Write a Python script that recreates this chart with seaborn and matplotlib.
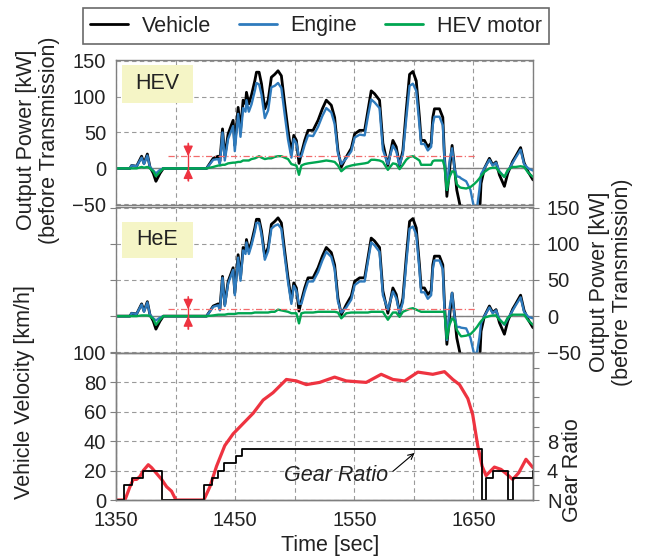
import matplotlib
matplotlib.use("Agg")
import matplotlib.pyplot as plt
import pandas as pd
import seaborn as sns
from matplotlib.lines import Line2D
from matplotlib.patches import Rectangle

# ---------------- data ----------------
time_s = [1350.0, 1361.7, 1363.1, 1367.3, 1371.5, 1373.5, 1376.3, 1378.5, 1381.3, 1383.5,
          1386.9, 1389.7, 1426.0, 1431.6, 1435.8, 1437.2, 1439.4, 1441.3, 1444.1, 1448.3,
          1449.7, 1452.5, 1454.5, 1456.7, 1458.7, 1459.5, 1461.5, 1463.7, 1466.5, 1467.9,
          1470.1, 1472.1, 1474.9, 1477.7, 1480.4, 1483.2, 1486.0, 1488.8, 1491.6, 1494.4,
          1497.2, 1499.2, 1501.4, 1503.6, 1505.6, 1508.4, 1511.2, 1515.4, 1519.6, 1523.2,
          1526.5, 1530.7, 1533.5, 1536.3, 1539.1, 1543.3, 1547.5, 1550.3, 1554.5, 1558.7,
          1561.5, 1564.2, 1567.0, 1571.2, 1574.0, 1578.2, 1582.4, 1585.2, 1588.0, 1590.8,
          1593.6, 1596.4, 1599.2, 1602.0, 1604.7, 1606.1, 1608.9, 1611.7, 1614.5, 1615.9,
          1617.3, 1621.5, 1624.3, 1625.7, 1627.7, 1629.9, 1632.1, 1634.1, 1636.0, 1638.3,
          1639.7, 1643.9, 1647.5, 1650.5, 1653.0, 1655.0, 1656.4, 1659.2, 1663.4, 1666.2,
          1669.0, 1671.8, 1676.0, 1678.8, 1683.0, 1685.5, 1689.6, 1692.5, 1696.0, 1700.0]

vehicle_kw = [0, 0, 4, 3, 17, 7, 20, 2, -7, -18,
              -7, 0, 0, 14, 17, 10, 55, 16, 48, 67,
              32, 85, 53, 95, 90, 106, 90, 102, 122, 134,
              134, 118, 83, 95, 127, 131, 136, 129, 90, 53,
              21, 46, 39, 7, 21, 39, 53, 53, 67, 83,
              95, 88, 71, 25, 2, 16, 28, 48, 53, 53,
              81, 108, 104, 95, 35, 4, 39, 30, 4, 25,
              81, 131, 135, 122, 71, 39, 39, 30, 35, 71,
              83, 83, 71, 16, -39, -2, 32, 2, -30, -48,
              -60, -75, -75, -75, -75, -70, -21, 0, 14, 5,
              9, -9, -25, -7, 10, 17, 29, 8, -5, -16]

engine_hev_kw = [0, 0, 4, 3, 15, 6, 18, 2, -3, -7,
                 -2, 0, 0, 12, 13, 6, 50, 11, 41, 59,
                 24, 76, 44, 84, 79, 95, 79, 89, 108, 119,
                 117, 103, 70, 81, 113, 115, 119, 112, 75, 40,
                 15, 41, 35, 16, 17, 33, 46, 45, 58, 73,
                 84, 78, 62, 21, 6, 14, 24, 43, 47, 46,
                 73, 96, 92, 84, 26, 6, 32, 24, 5, 20,
                 69, 115, 118, 108, 60, 34, 34, 25, 30, 61,
                 72, 72, 60, 13, -30, 10, 28, 0, -11, -12,
                 -14, -18, -30, -55, -55, -30, -8, 0, 12, 4,
                 8, -4, -12, -4, 8, 15, 26, 6, 0, -3]

motor_hev_kw = [0, 0, 0, 0, 2, 1, 2, 0, -4, -11,
                -5, 0, 0, 2, 4, 4, 5, 5, 7, 8,
                8, 9, 9, 11, 11, 11, 11, 13, 14, 15,
                17, 15, 13, 14, 14, 16, 17, 17, 15, 13,
                6, 5, 4, -9, 4, 6, 7, 8, 9, 10,
                11, 10, 9, 4, -4, 2, 4, 5, 6, 7,
                8, 12, 12, 11, 9, -2, 7, 6, -1, 5,
                12, 16, 17, 14, 11, 5, 5, 5, 5, 10,
                11, 11, 11, 3, -30, -12, -4, -5, -22, -26,
                -27, -28, -26, -22, -18, -14, -11, -5, 0, 1,
                1, -5, -12, -2, 2, 2, 3, 2, -6, -12]

engine_hee_kw = [0, 0, 4, 3, 16, 6, 19, 2, -3, -6,
                 -2, 0, 0, 13, 15, 8, 53, 14, 45, 64,
                 29, 81, 49, 91, 86, 102, 86, 98, 117, 129,
                 129, 113, 78, 90, 121, 125, 127, 121, 83, 47,
                 17, 42, 35, 17, 17, 34, 48, 48, 61, 77,
                 89, 82, 65, 20, 5, 12, 23, 43, 48, 48,
                 76, 102, 98, 89, 29, 9, 34, 25, 5, 19,
                 73, 121, 124, 113, 64, 33, 33, 24, 29, 65,
                 77, 77, 65, 10, -33, 10, 32, 0, -15, -15,
                 -16, -17, -30, -52, -50, -30, -10, 0, 12, 4,
                 8, -4, -12, -4, 8, 15, 26, 6, -1, -3]

motor_hee_kw = [0, 0, 0, 0, 1, 1, 1, 0, -4, -12,
                -5, 0, 0, 1, 2, 2, 2, 2, 3, 3,
                3, 4, 4, 4, 4, 4, 4, 4, 5, 5,
                5, 5, 5, 5, 6, 6, 9, 8, 7, 6,
                4, 4, 4, -10, 4, 5, 5, 5, 6, 6,
                6, 6, 6, 5, -3, 4, 5, 5, 5, 5,
                5, 6, 6, 6, 6, -5, 5, 5, -1, 6,
                8, 10, 11, 9, 7, 6, 6, 6, 6, 6,
                6, 6, 6, 6, -31, -12, -3, -6, -19, -25,
                -28, -27, -25, -20, -15, -10, -7, -2, 0, 1,
                1, -5, -11, -2, 2, 2, 2, 2, -6, -12]

velocity_time_s = [1350, 1357.5, 1361.7, 1364.5, 1367.3, 1370.1, 1372.9, 1377.1, 1379.9, 1384.1,
                   1388.3, 1392.5, 1396.6, 1400.3, 1423.7, 1428.8, 1434.4, 1441.3, 1448.3, 1456.7,
                   1465.1, 1473.5, 1481.8, 1493.0, 1501.4, 1509.8, 1520.9, 1533.5, 1543.3, 1560.0,
                   1572.6, 1582.4, 1592.2, 1603.4, 1615.9, 1625.7, 1632.7, 1638.3, 1645.3, 1649.4,
                   1653.6, 1657.3, 1660.6, 1667.6, 1673.2, 1678.8, 1683.0, 1688.0, 1694.1, 1700.0]
velocity_kmh = [0, 0, 9, 14, 14, 16, 20, 24, 22, 18,
                14, 9, 6, 0, 0, 9, 23, 37, 45, 52,
                59, 68, 73, 82, 81, 78.5, 80, 83.6, 81, 80,
                85.5, 82, 81, 87, 85.5, 87.3, 82, 78.5, 69, 58,
                37, 23, 16.6, 22.4, 20.8, 17, 14, 18.5, 27.7, 22]

gear_time_s = [1350, 1356.7, 1363.1, 1372.9, 1388.3, 1423.7, 1430.2, 1435.8, 1440.5, 1451.1,
               1456.1, 1657.3, 1660.6, 1666.2, 1678.8, 1683.0, 1700]
gear_number = [0, 2, 3, 4, 0, 2, 3, 4, 5, 6,
               7, 0, 3, 4, 0, 3, 4]

panel_names = ["HEV", "HeE"]
motor_limit_kw = [17, 9.3]
motor_limit_span_s = [1394, 1652]
series_labels = ["Vehicle", "Engine", "HEV motor"]
x_ticks = [1350, 1400, 1450, 1500, 1550, 1600, 1650, 1700]
x_tick_labels = ["1350", "", "1450", "", "1550", "", "1650", ""]
power_ticks = [-50, 0, 50, 100, 150]
velocity_ticks = [0, 20, 40, 60, 80, 100]
gear_ticks = [0, 4, 8]
gear_tick_labels = ["N", "4", "8"]
gear_minor_ticks = [2, 6, 10, 12, 14, 16, 18]

# ---------------- style ----------------
sns.set_style("white")
plt.rcParams["font.family"] = ["Liberation Sans", "DejaVu Sans"]
TXT = "#222222"
SPINE = "#7f7f7f"
C_VEH, C_ENG, C_MOT, C_RED = "black", "#2f7bbd", "#00a651", "#ee3340"
FS_T = 14.5
FS_L = 15.5

W, H = 646, 557
fig = plt.figure(figsize=(W / 100, H / 100), dpi=100)


def fx(px):
    return px / W


def fy(py):
    return 1 - py / H


left, right = 116, 533
ax1 = fig.add_axes([fx(left), fy(205), fx(right - left), (205 - 60) / H])
ax2 = fig.add_axes([fx(left), fy(353), fx(right - left), (353 - 207) / H])
ax3 = fig.add_axes([fx(left), fy(500), fx(right - left), (500 - 353) / H])


def style_axes(ax):
    for s in ax.spines.values():
        s.set_color(SPINE)
        s.set_linewidth(1.0)
    ax.grid(True, which="major", ls=(0, (4, 3)), color="#9a9a9a", lw=0.8)
    ax.set_axisbelow(True)
    ax.tick_params(axis="both", direction="out", length=4, width=0.8, color=SPINE,
                   labelsize=FS_T, labelcolor=TXT, pad=3)
    ax.set_xlim(1350, 1700)
    ax.set_xticks(x_ticks)
    ax.set_xlabel("")
    ax.set_ylabel("")


arrow_pairs = [((35, 17), (-17, 0)), ((27, 9.3), (-18, 0))]
box_specs = [(65, 102.7, 60, 145), (221.7, 258.3, 207, 146)]

for i, (ax, eng, mot) in enumerate([(ax1, engine_hev_kw, motor_hev_kw),
                                     (ax2, engine_hee_kw, motor_hee_kw)]):
    df = pd.DataFrame({"t": time_s, "veh": vehicle_kw, "eng": eng, "mot": mot})
    ax.axhline(0, color="#808080", lw=1.0, zorder=1)
    sns.lineplot(data=df, x="t", y="veh", ax=ax, color=C_VEH, lw=2.0, estimator=None, sort=False)
    sns.lineplot(data=df, x="t", y="eng", ax=ax, color=C_ENG, lw=1.7, estimator=None, sort=False)
    sns.lineplot(data=df, x="t", y="mot", ax=ax, color=C_MOT, lw=1.7, estimator=None, sort=False)
    style_axes(ax)
    ax.set_ylim(-51, 151)
    ax.set_yticks(power_ticks)
    ax.tick_params(axis="x", bottom=False, labelbottom=False)
    # motor limit reference
    ax.hlines(motor_limit_kw[i], motor_limit_span_s[0], motor_limit_span_s[1],
              colors="#f26b6b", lw=0.9, linestyles=(0, (5, 2, 1, 2)), zorder=2)
    (a0, a1), (b0, b1) = arrow_pairs[i]
    ax.vlines(1410.6, b0, a0, colors=C_RED, lw=1.0, zorder=5)
    for y0, y1 in [(a0, a1), (b0, b1)]:
        ax.annotate("", xy=(1410.6, y1), xytext=(1410.6, y0),
                    arrowprops=dict(arrowstyle="-|>,head_length=0.6,head_width=0.28",
                                    color=C_RED, lw=1.0, shrinkA=0, shrinkB=0),
                    zorder=5)
    # label box
    top, bot, ptop, ph = box_specs[i]
    y_hi = 1 - (top - ptop) / ph
    y_lo = 1 - (bot - ptop) / ph
    x_lo = (121.7 - left) / (right - left)
    x_w = 71 / (right - left)
    ax.add_patch(Rectangle((x_lo, y_lo), x_w, y_hi - y_lo, transform=ax.transAxes,
                           facecolor="#f5f5c6", edgecolor="none", zorder=3))
    ax.text(x_lo + x_w / 2, (y_lo + y_hi) / 2, panel_names[i], transform=ax.transAxes,
            ha="center", va="center", fontsize=15.5, color=TXT, zorder=4)

ax2.tick_params(axis="y", left=True, right=True, labelleft=False, labelright=True, pad=6)

# ---------------- velocity / gear panel ----------------
vdf = pd.DataFrame({"t": velocity_time_s, "v": velocity_kmh})
sns.lineplot(data=vdf, x="t", y="v", ax=ax3, color=C_RED, lw=2.3, estimator=None, sort=False)
style_axes(ax3)
ax3.set_ylim(0, 100)
ax3.set_yticks(velocity_ticks)
ax3.set_xticklabels(x_tick_labels)
ax3.tick_params(axis="x", pad=4)

ax3g = ax3.twinx()
gdf = pd.DataFrame({"t": gear_time_s, "g": gear_number})
sns.lineplot(data=gdf, x="t", y="g", ax=ax3g, color="black", lw=1.3, estimator=None,
             sort=False, drawstyle="steps-post")
ax3g.set_ylim(0, 20)
ax3g.set_xlim(1350, 1700)
ax3g.set_ylabel("")
ax3g.set_yticks(gear_ticks)
ax3g.set_yticklabels(gear_tick_labels)
ax3g.set_yticks(gear_minor_ticks, minor=True)
ax3g.tick_params(axis="y", which="both", direction="out", length=4, width=0.8, color=SPINE,
                 labelsize=FS_T, labelcolor=TXT, pad=6)
ax3g.grid(False)
for s in ax3g.spines.values():
    s.set_color(SPINE)
    s.set_linewidth(1.0)

ax3g.text(1534.9, 3.3, "Gear Ratio", ha="center", va="center", fontsize=15.5,
          style="italic", color=TXT)
ax3g.annotate("", xy=(1600.6, 6.4), xytext=(1582.4, 3.9),
              arrowprops=dict(arrowstyle="->", color="black", lw=0.8,
                              shrinkA=0, shrinkB=0))

# ---------------- labels ----------------
fig.text(fx(38), fy(140), "Output Power [kW]\n(before Transmission)", rotation=90,
         ha="center", va="center", fontsize=FS_L, color=TXT, linespacing=1.15)
fig.text(fx(611), fy(282), "Output Power [kW]\n(before Transmission)", rotation=90,
         ha="center", va="center", fontsize=FS_L, color=TXT, linespacing=1.15)
fig.text(fx(25), fy(392), "Vehicle Velocity [km/h]", rotation=90,
         ha="center", va="center", fontsize=FS_L, color=TXT)
fig.text(fx(573), fy(470), "Gear Ratio", rotation=90,
         ha="center", va="center", fontsize=FS_L, color=TXT)
fig.text(fx(330), fy(546), "Time [sec]", ha="center", va="center",
         fontsize=FS_L, color=TXT)

# ---------------- legend ----------------
handles = [Line2D([], [], color=C_VEH, lw=2.0),
           Line2D([], [], color=C_ENG, lw=2.0),
           Line2D([], [], color=C_MOT, lw=2.0)]
leg = fig.legend(handles, series_labels, loc="center", ncol=3,
                 bbox_to_anchor=(fx(316), fy(26)), frameon=True, fancybox=False,
                 fontsize=FS_L, handlelength=1.75, handletextpad=0.65,
                 columnspacing=1.3, borderpad=0.35, borderaxespad=0)
leg.get_frame().set_edgecolor("#444444")
leg.get_frame().set_linewidth(1.2)
for t in leg.get_texts():
    t.set_color(TXT)

fig.savefig("out.png", dpi=100)
